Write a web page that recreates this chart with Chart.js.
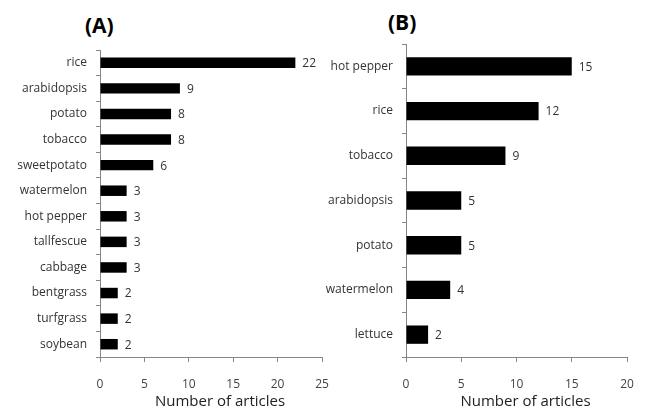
<!DOCTYPE html>
<html lang="en">
<head>
    <meta charset="UTF-8">
    <title>Number of articles by crop</title>
    <script src="https://cdn.jsdelivr.net/npm/chart.js"></script>
    <style>
        body {
            margin: 0;
            width: 645px;
            height: 410px;
            background: #fff;
            position: relative;
            overflow: hidden;
            font-family: "Open Sans", sans-serif;
        }
        .panel {
            position: absolute;
            top: 0;
            height: 410px;
        }
        .panel-title {
            position: absolute;
            font-weight: bold;
            font-size: 21px;
            color: #000;
            line-height: 1;
        }
    </style>
</head>
<body>
    <div class="panel-title" style="left: 85px; top: 15px;">(A)</div>
    <div class="panel-title" style="left: 388px; top: 12px;">(B)</div>

    <div class="panel" style="left: 0; width: 330px;">
        <canvas id="chartA" width="330" height="410"></canvas>
    </div>
    <div class="panel" style="left: 320px; width: 325px;">
        <canvas id="chartB" width="325" height="410"></canvas>
    </div>

    <script>
        // panel A
        const cropsA = ['rice', 'arabidopsis', 'potato', 'tobacco', 'sweetpotato', 'watermelon',
            'hot pepper', 'tallfescue', 'cabbage', 'bentgrass', 'turfgrass', 'soybean'];
        const articlesA = [22, 9, 8, 8, 6, 3, 3, 3, 3, 2, 2, 2];
        const maxA = 25;

        // panel B
        const cropsB = ['hot pepper', 'rice', 'tobacco', 'arabidopsis', 'potato', 'watermelon', 'lettuce'];
        const articlesB = [15, 12, 9, 5, 5, 4, 2];
        const maxB = 20;

        const tickStep = 5;
        const axisTitle = 'Number of articles';

        // value labels at the end of each bar
        const valueLabels = {
            id: 'valueLabels',
            afterDatasetsDraw(chart) {
                const ctx = chart.ctx;
                const meta = chart.getDatasetMeta(0);
                ctx.save();
                ctx.font = '12px "Open Sans"';
                ctx.fillStyle = '#333';
                ctx.textAlign = 'left';
                ctx.textBaseline = 'middle';
                meta.data.forEach((bar, i) => {
                    ctx.fillText(chart.data.datasets[0].data[i], bar.x + 7, bar.y + 1);
                });
                ctx.restore();
            }
        };

        // x axis title, sits a little right of the axis centre like the original
        const xTitle = {
            id: 'xTitle',
            afterDraw(chart) {
                const x = chart.scales.x;
                const ctx = chart.ctx;
                ctx.save();
                ctx.font = '15px "Open Sans"';
                ctx.fillStyle = '#222';
                ctx.textAlign = 'center';
                ctx.textBaseline = 'middle';
                ctx.fillText(axisTitle, (x.left + x.right) / 2 + 9, 402);
                ctx.restore();
            }
        };

        function makeChart(id, labels, values, max, yWidth, pad) {
            return new Chart(document.getElementById(id), {
                type: 'bar',
                data: {
                    labels: labels,
                    datasets: [{
                        data: values,
                        backgroundColor: '#000',
                        categoryPercentage: 1,
                        barPercentage: 0.41
                    }]
                },
                options: {
                    indexAxis: 'y',
                    responsive: false,
                    animation: false,
                    layout: { padding: pad },
                    plugins: {
                        legend: { display: false },
                        tooltip: { enabled: false }
                    },
                    scales: {
                        y: {
                            grid: {
                                drawOnChartArea: false,
                                tickLength: 4,
                                color: '#868686'
                            },
                            border: { color: '#868686' },
                            ticks: {
                                color: '#333',
                                padding: 9,
                                font: { family: 'Open Sans', size: 12 }
                            },
                            afterFit(scale) {
                                scale.width = yWidth;
                                scale.paddingTop = 0;
                                scale.paddingBottom = 0;
                            }
                        },
                        x: {
                            min: 0,
                            max: max,
                            grid: {
                                drawOnChartArea: false,
                                tickLength: 5,
                                color: '#868686'
                            },
                            border: { color: '#868686' },
                            ticks: {
                                stepSize: tickStep,
                                color: '#444',
                                padding: 15,
                                maxRotation: 0,
                                font: { family: 'Open Sans', size: 12 }
                            },
                            afterFit(scale) {
                                scale.height = 53;
                                scale.paddingLeft = 0;
                                scale.paddingRight = 0;
                            }
                        }
                    }
                },
                plugins: [valueLabels, xTitle]
            });
        }

        makeChart('chartA', cropsA, articlesA, maxA, 100, { top: 50, right: 8, left: 0, bottom: 0 });
        makeChart('chartB', cropsB, articlesB, maxB, 86, { top: 44, right: 18, left: 0, bottom: 0 });
    </script>
</body>
</html>
